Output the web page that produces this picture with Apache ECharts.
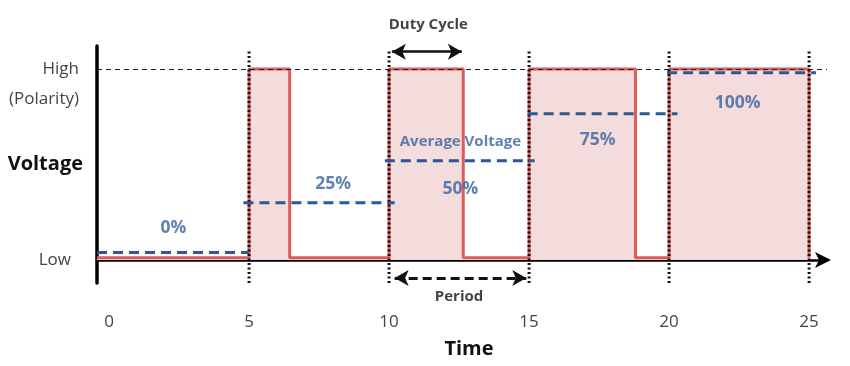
<!DOCTYPE html>
<html><head><meta charset="utf-8">
<script src="https://cdn.jsdelivr.net/npm/echarts@6/dist/echarts.min.js"></script>
<style>html,body{margin:0;padding:0;background:#fff}#c{width:850px;height:366px}</style>
</head><body><div id="c"></div>
<script>
const xTicks = [0, 5, 10, 15, 20, 25];
const yTickValues = [0, 0.84, 1];
const yTickLabels = ['Low', '(Polarity)', 'High'];
const waveX = [-0.43, 5, 5, 6.45, 6.45, 10, 10, 12.65, 12.65, 15, 15, 18.8, 18.8, 20, 20, 25, 25];
const waveY = [0.012, 0.012, 1, 1, 0.012, 0.012, 1, 1, 0.012, 0.012, 1, 1, 0.012, 0.012, 1, 1, 0.012];
const avgStart = [-0.43, 4.8, 9.85, 14.95, 19.93];
const avgEnd = [5, 10.2, 15.2, 20.3, 25.25];
const avgLevel = [0.04, 0.30, 0.52, 0.765, 0.98];
const avgLabels = ['0%', '25%', '50%', '75%', '100%'];
const avgLabelX = [2.3, 8.0, 12.55, 17.45, 22.45];
const avgLabelY = [0.17, 0.40, 0.37, 0.63, 0.82];
const periodMarks = [5, 10, 15, 20, 25];
const notes = [
  {text: 'Average Voltage', x: 12.55, y: 0.62},
  {text: 'Duty Cycle', x: 11.4, y: 1.23},
  {text: 'Period', x: 12.5, y: -0.19}
];
const dutyArrow = {from: 10.1, to: 12.6, y: 1.09};
const periodArrow = {from: 10.2, to: 14.9, y: -0.094};

const blue = '#2d5796';
const series = [];
periodMarks.forEach(v => series.push({
  type: 'line', data: [[v, -0.12], [v, 1.10]], symbol: 'none', silent: true, z: 4,
  lineStyle: {color: '#111', width: 3, type: [2, 2.5]}
}));
series.push({
  type: 'line', data: waveX.map((x, i) => [x, waveY[i]]), symbol: 'none', z: 3,
  lineStyle: {color: '#dc5b5b', width: 3},
  areaStyle: {color: '#f3dcdb', opacity: 1},
  markLine: {
    silent: true, symbol: 'none',
    lineStyle: {color: '#222', width: 1, type: [5, 4]},
    label: {show: false},
    data: [{yAxis: 1}]
  }
});
avgLevel.forEach((lv, i) => series.push({
  type: 'line', data: [[avgStart[i], lv], [avgEnd[i], lv]], symbol: 'none', z: 5,
  lineStyle: {color: blue, width: 3, type: [10, 6]}
}));
series.push({
  type: 'line', data: [], z: 6,
  markLine: {
    silent: true, symbol: ['arrow', 'arrow'], symbolSize: [12, 14],
    label: {show: false},
    data: [
      [{coord: [dutyArrow.from, dutyArrow.y], lineStyle: {color: '#111', width: 2.5, type: 'solid'}},
       {coord: [dutyArrow.to, dutyArrow.y]}],
      [{coord: [periodArrow.from, periodArrow.y], lineStyle: {color: '#111', width: 3, type: [9, 5]}},
       {coord: [periodArrow.to, periodArrow.y]}]
    ]
  }
});
series.push({
  type: 'scatter', clip: false, symbolSize: 1, itemStyle: {color: 'rgba(0,0,0,0)'}, z: 7,
  data: avgLabels.map((t, i) => ({value: [avgLabelX[i], avgLabelY[i]], name: t})),
  label: {show: true, position: 'inside', formatter: p => p.name, color: '#3a61a1',
          fontSize: 17.5, fontWeight: 'bold', fontFamily: 'Open Sans'}
});
series.push({
  type: 'scatter', clip: false, symbolSize: 1, itemStyle: {color: 'rgba(0,0,0,0)'}, z: 7,
  data: notes.map(n => ({value: [n.x, n.y], name: n.text,
    label: n.text === 'Average Voltage' ? {color: '#3a61a1', fontSize: 15} : {color: '#111', fontSize: 15}})),
  label: {show: true, position: 'inside', formatter: p => p.name, fontWeight: 'bold', fontFamily: 'Open Sans'}
});

const chart = echarts.init(document.getElementById('c'));
chart.setOption({
  animation: false,
  grid: {left: 97, right: 23, top: 46, bottom: 83, containLabel: false, outerBoundsMode: 'none'},
  xAxis: {
    type: 'value', min: -0.43, max: 25.64,
    name: 'Time', nameLocation: 'middle', nameGap: 56, nameMoveOverlap: false,
    nameTextStyle: {fontSize: 20, fontWeight: 'bold', color: '#111', fontFamily: 'Open Sans', padding: [0, 0, 0, 14]},
    axisLine: {onZero: true, lineStyle: {color: '#000', width: 2.5}, symbol: ['none', 'arrow'], symbolSize: [12, 16], symbolOffset: [0, 4]},
    axisTick: {show: false},
    splitLine: {show: false},
    axisLabel: {customValues: xTicks, margin: 31, fontSize: 17, color: '#444', fontFamily: 'Open Sans'}
  },
  yAxis: {
    type: 'value', min: -0.12, max: 1.12,
    name: 'Voltage', nameLocation: 'middle', nameRotate: 0, nameGap: 14, nameMoveOverlap: false,
    nameTextStyle: {fontSize: 20, fontWeight: 'bold', color: '#111', fontFamily: 'Open Sans', align: 'right', verticalAlign: 'middle'},
    axisLine: {show: true, onZero: false, lineStyle: {color: '#000', width: 3.5}},
    axisTick: {show: false},
    splitLine: {show: false},
    axisLabel: {customValues: yTickValues, margin: 18, fontSize: 17, color: '#444', fontFamily: 'Open Sans',
      formatter: v => {
        const t = yTickLabels[yTickValues.indexOf(v)] || '';
        return t === 'Low' ? '{low|' + t + '}' : t;
      },
      rich: {low: {fontSize: 17, color: '#444', fontFamily: 'Open Sans', padding: [0, 8, 0, 0]}}}
  },
  series: series
});
</script></body></html>
